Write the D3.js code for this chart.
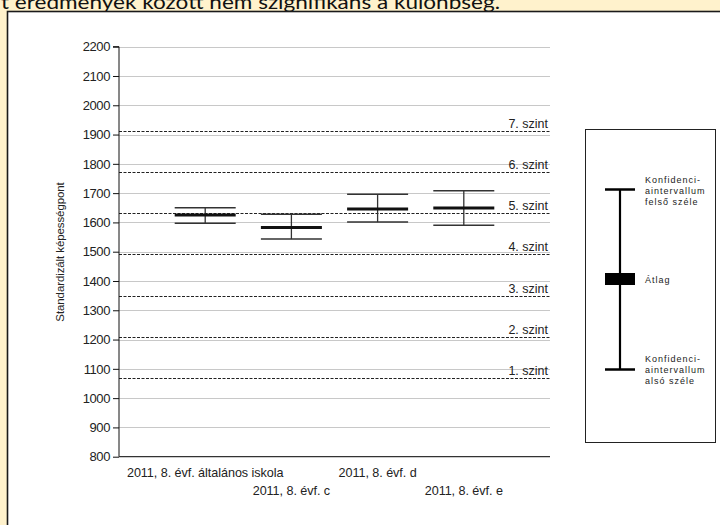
<!DOCTYPE html>
<html><head><meta charset="utf-8">
<script src="https://cdn.jsdelivr.net/npm/d3@7"></script>
<style>html,body{margin:0;padding:0;background:#fff2cc;}svg{display:block;}</style>
</head><body>
<svg id="c" width="720" height="525"></svg>
<script>
const categories = ["2011, 8. évf. általános iskola", "2011, 8. évf. c", "2011, 8. évf. d", "2011, 8. évf. e"];
const upperCI = [1650, 1628, 1696, 1708];
const means   = [1625, 1583, 1646, 1649];
const lowerCI = [1597, 1543, 1601, 1590];
const levelNames = ["1. szint", "2. szint", "3. szint", "4. szint", "5. szint", "6. szint", "7. szint"];
const levelValues = [1070, 1209, 1350, 1491, 1631, 1771, 1912];
const yTicks = [800, 900, 1000, 1100, 1200, 1300, 1400, 1500, 1600, 1700, 1800, 1900, 2000, 2100, 2200];
const yLabel = "Standardizált képességpont";
const titleText = "t eredmények között nem szignifikáns a különbség.";
const legendUpper = ["Konfidenci-", "aintervallum", "felső széle"];
const legendMean = "Átlag";
const legendLower = ["Konfidenci-", "aintervallum", "alsó széle"];

const svg = d3.select("#c");
const font = "'Liberation Sans', Arial, sans-serif";

// title (cut off at top, as in the source)
svg.append("text").attr("x", 1).attr("y", 9)
  .attr("font-family", "Lato, 'Open Sans', sans-serif").attr("font-size", 20)
  .attr("fill", "#111").attr("textLength", 499).attr("lengthAdjust", "spacingAndGlyphs")
  .text(titleText);

// white panel
svg.append("rect").attr("x", 7.5).attr("y", 11.5).attr("width", 730).attr("height", 530)
  .attr("fill", "#fff").attr("stroke", "#1a1a1a").attr("stroke-width", 1.6);

const x0 = 119, x1 = 550;
const y = d3.scaleLinear().domain([800, 2200]).range([456.7, 46.7]);
const x = d3.scalePoint().domain(categories).range([x0, x1]).padding(1);

// gridlines
svg.append("g").selectAll("line").data(yTicks.filter(d => d > 800)).join("line")
  .attr("x1", x0).attr("x2", x1)
  .attr("y1", d => Math.round(y(d)) + 0.5).attr("y2", d => Math.round(y(d)) + 0.5)
  .attr("stroke", "#c8c8c8").attr("stroke-width", 1);

// level dashed lines
const lv = svg.append("g");
lv.selectAll("line").data(levelValues).join("line")
  .attr("x1", x0).attr("x2", x1)
  .attr("y1", d => Math.round(y(d)) + 0.5).attr("y2", d => Math.round(y(d)) + 0.5)
  .attr("stroke", "#222").attr("stroke-width", 1).attr("stroke-dasharray", "3,1.5");
lv.selectAll("text").data(levelValues).join("text")
  .attr("x", 548).attr("y", d => y(d) - 3)
  .attr("text-anchor", "end").attr("font-family", font).attr("font-size", 12.5)
  .attr("fill", "#222").text((d, i) => levelNames[i]);

// y axis
const yAxis = d3.axisLeft(y).tickValues(yTicks).tickSize(6).tickPadding(3).tickFormat(d3.format("d"));
const ga = svg.append("g").attr("transform", `translate(${x0},0)`).call(yAxis);
ga.select(".domain").attr("stroke", "#111").attr("d", `M-6,${y(2200)}H0V${y(800)}`);
ga.selectAll(".tick line").attr("stroke", "#111");
ga.selectAll(".tick text").attr("font-family", font).attr("font-size", 13)
  .attr("letter-spacing", -0.4).attr("fill", "#222");

// x axis line
svg.append("line").attr("x1", x0).attr("x2", x1).attr("y1", y(800)).attr("y2", y(800))
  .attr("stroke", "#333").attr("stroke-width", 1.2);

// x labels (staggered)
svg.append("g").selectAll("text").data(categories).join("text")
  .attr("x", d => x(d)).attr("y", (d, i) => i % 2 === 0 ? 477 : 495)
  .attr("text-anchor", "middle").attr("font-family", font).attr("font-size", 12.6)
  .attr("letter-spacing", -0.05).attr("fill", "#222").text(d => d);

// y label
svg.append("text").attr("transform", "translate(64,252) rotate(-90)")
  .attr("text-anchor", "middle").attr("font-family", font).attr("font-size", 11.5)
  .attr("letter-spacing", -0.1).attr("fill", "#222").text(yLabel);

// error bars
const capHalf = 30.5;
const eb = svg.append("g");
categories.forEach((c, i) => {
  const cx = x(c);
  eb.append("line").attr("x1", cx).attr("x2", cx).attr("y1", y(upperCI[i])).attr("y2", y(lowerCI[i]))
    .attr("stroke", "#333").attr("stroke-width", 1.3);
  [upperCI[i], lowerCI[i]].forEach(v => {
    eb.append("line").attr("x1", cx - capHalf).attr("x2", cx + capHalf).attr("y1", y(v)).attr("y2", y(v))
      .attr("stroke", "#333").attr("stroke-width", 1.5);
  });
  eb.append("line").attr("x1", cx - capHalf).attr("x2", cx + capHalf).attr("y1", y(means[i])).attr("y2", y(means[i]))
    .attr("stroke", "#111").attr("stroke-width", 3);
});

// legend box
const L = svg.append("g");
L.append("rect").attr("x", 585.5).attr("y", 129.5).attr("width", 130).attr("height", 313)
  .attr("fill", "#fff").attr("stroke", "#222").attr("stroke-width", 1);
const lx = 620, lTop = 189.5, lMid = 279, lBot = 369.5;
L.append("line").attr("x1", lx).attr("x2", lx).attr("y1", lTop).attr("y2", lBot).attr("stroke", "#000").attr("stroke-width", 2.2);
[lTop, lBot].forEach(v => L.append("line").attr("x1", 605).attr("x2", 635).attr("y1", v).attr("y2", v)
  .attr("stroke", "#000").attr("stroke-width", 2.5));
L.append("rect").attr("x", 605).attr("y", lMid - 6).attr("width", 30).attr("height", 12).attr("fill", "#000");
const lt = (lines, y0) => lines.forEach((t, k) => L.append("text").attr("x", 645).attr("y", y0 + k * 11)
  .attr("font-family", font).attr("font-size", 9).attr("letter-spacing", 1).attr("fill", "#222").text(t));
lt(legendUpper, 183);
lt([legendMean], 283);
lt(legendLower, 361.5);
</script>
</body></html>
